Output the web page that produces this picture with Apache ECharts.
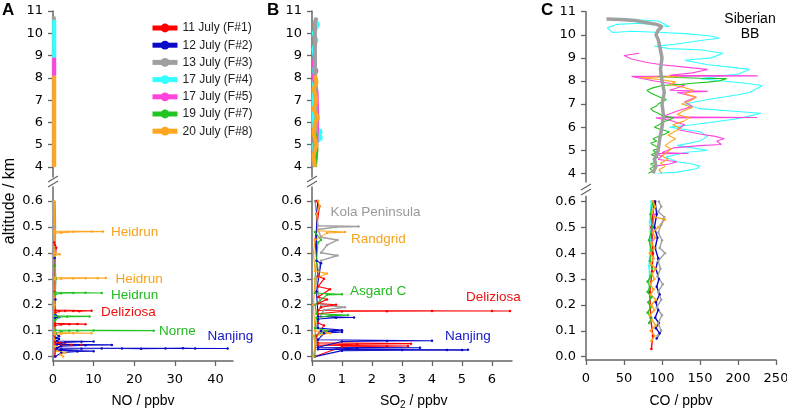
<!DOCTYPE html>
<html><head><meta charset="utf-8">
<script src="https://cdn.jsdelivr.net/npm/echarts@6/dist/echarts.min.js"></script>
<style>html,body{margin:0;padding:0;background:#fff}#c{width:787px;height:409px}</style>
</head><body><div id="c"></div>
<script>
const flights = ['11 July (F#1)','12 July (F#2)','13 July (F#3)','17 July (F#4)','17 July (F#5)','19 July (F#7)','20 July (F#8)'];
const colors = ['#ff0000','#0a0ac8','#a0a0a0','#33ffff','#ff44dd','#22c422','#ffa520'];

// ---- NO (ppbv) vs altitude (km): [value, altitude]
const noF1 = [[0.4,0.0],[0.6,0.03],[2,0.044],[4.5,0.045],[7,0.046],[0.6,0.048],[1.5,0.052],[3,0.054],[0.5,0.056],[0.4,0.08],[0.5,0.12],[2,0.124],[4,0.125],[6,0.126],[8,0.125],[0.5,0.128],[0.6,0.17],[1.5,0.175],[3,0.176],[5,0.176],[6.5,0.175],[9.5,0.177],[0.6,0.179],[0.4,0.25],[0.4,0.35],[0.8,0.42],[0.5,0.43],[0.3,0.44]];
const noF2 = [[0.6,0.0],[2,0.015],[6,0.02],[10,0.021],[1,0.024],[2,0.028],[7,0.03],[12,0.031],[17,0.031],[21.7,0.03],[27.7,0.031],[32,0.032],[35,0.031],[43,0.031],[1,0.033],[2,0.04],[8,0.044],[14.5,0.045],[1,0.047],[3,0.055],[7,0.057],[10,0.058],[1,0.06],[1.5,0.068],[0.8,0.072],[1.5,0.078],[0.6,0.09],[0.5,0.15],[1.5,0.152],[0.6,0.16],[0.6,0.22],[0.5,0.3],[0.4,0.38]];
const noF3 = [[0.2,4.0],[0.2,7.0],[0.2,10.75],[0.2,0.0],[0.3,0.1],[0.2,0.2],[0.3,0.3],[0.2,0.4],[0.3,0.5],[0.2,0.6]];
const noF4 = [[0.3,8.9],[0.3,9.8],[0.3,10.6]];
const noF5 = [[0.3,8.1],[0.3,8.9]];
const noF7 = [[0.5,0.04],[0.6,0.09],[2,0.098],[4,0.1],[6,0.1],[10,0.101],[24.8,0.1],[0.6,0.102],[0.5,0.14],[1.5,0.153],[3.5,0.154],[9,0.155],[0.5,0.157],[0.6,0.24],[2,0.244],[5,0.245],[8,0.246],[12,0.245],[0.6,0.248],[0.7,0.3],[0.5,0.35]];
const noF8 = [[0.3,4.0],[0.3,6.0],[0.3,8.1],[2.5,0.0],[1.8,0.008],[3,0.015],[1,0.022],[0.5,0.04],[0.5,0.085],[2,0.088],[5,0.09],[9.5,0.09],[0.5,0.093],[0.4,0.2],[0.5,0.298],[2,0.3],[5,0.301],[8,0.302],[11,0.302],[13,0.303],[0.5,0.305],[0.5,0.39],[1.6,0.395],[0.5,0.4],[0.4,0.476],[2,0.478],[3.5,0.48],[5,0.481],[9.5,0.482],[12.3,0.482],[0.4,0.484],[0.3,0.6]];

// ---- SO2 (ppbv)
const so2F1 = [[0.1,0.0],[1,0.038],[2.5,0.04],[3.2,0.041],[0.2,0.044],[1.5,0.048],[3.3,0.05],[0.2,0.053],[0.15,0.08],[0.4,0.12],[0.2,0.13],[0.2,0.165],[1,0.174],[2.5,0.175],[4,0.176],[6,0.176],[6.6,0.176],[0.2,0.178],[0.3,0.19],[0.8,0.2],[0.2,0.205],[0.5,0.22],[0.2,0.23],[0.6,0.26],[0.2,0.27],[0.4,0.3],[0.2,0.31],[0.1,0.45],[0.25,0.58],[0.15,0.6]];
const so2F2 = [[0.1,0.0],[1,0.023],[3,0.025],[4.5,0.025],[5,0.025],[5.2,0.026],[0.2,0.028],[1.5,0.032],[3.6,0.034],[0.2,0.036],[1,0.058],[2.5,0.06],[4,0.061],[0.2,0.065],[0.4,0.09],[1.0,0.095],[0.3,0.098],[1.0,0.102],[0.2,0.11],[0.2,0.145],[0.8,0.15],[1.4,0.151],[0.2,0.155],[0.15,0.25],[0.3,0.36],[0.15,0.37],[0.15,0.55],[0.2,0.6]];
const so2F3 = [[0.05,4.2],[0.15,6.1],[0.1,8.3],[0.1,10.5],[0.15,10.7],[0.05,0.0],[0.15,0.05],[0.1,0.1],[0.25,0.15],[0.4,0.18],[1.1,0.19],[0.3,0.2],[0.2,0.25],[0.15,0.3],[0.3,0.37],[0.85,0.39],[0.3,0.4],[0.5,0.43],[0.85,0.45],[0.3,0.46],[0.2,0.49],[0.8,0.5],[1.55,0.502],[0.2,0.505],[0.15,0.55],[0.1,0.6]];
const so2F4 = [[0.1,4.0],[0.05,5.0],[0.3,5.3],[0.25,5.5],[0.3,5.6],[0.05,5.8],[0.05,7.0],[0.1,8.9],[0.05,9.3],[0.15,9.7],[0.05,10.0],[0.2,10.4],[0.1,10.6]];
const so2F5 = [[0.12,4.4],[0.15,5.2],[0.18,6.2],[0.15,7.4],[0.05,8.1],[0.15,8.3],[0.05,8.6],[0.1,8.9]];
const so2F7 = [[0.1,4.0],[0.15,4.8],[0.1,5.5],[0.1,0.0],[0.1,0.08],[0.5,0.1],[0.1,0.11],[0.15,0.15],[0.6,0.158],[1.2,0.16],[0.15,0.165],[0.1,0.2],[0.5,0.238],[1.0,0.24],[0.1,0.245],[0.1,0.3],[0.2,0.44],[0.3,0.45],[0.1,0.48]];
const so2F8 = [[0.1,4.0],[0.05,4.5],[0.15,5.0],[0.05,5.5],[0.1,6.0],[0.2,6.2],[0.05,6.6],[0.15,7.0],[0.05,7.5],[0.15,7.8],[0.1,8.1],[0.05,0.0],[0.1,0.05],[0.05,0.08],[0.6,0.09],[0.1,0.1],[0.05,0.2],[0.1,0.3],[0.5,0.32],[0.1,0.33],[0.05,0.4],[0.1,0.45],[0.5,0.477],[1.1,0.48],[0.2,0.485],[0.15,0.55],[0.25,0.58],[0.2,0.6]];

// ---- CO (ppbv)
const coF1 = [[86,0.03],[88,0.08],[85,0.15],[84,0.25],[87,0.33],[88,0.4],[86,0.5],[90,0.6]];
const coF2 = [[93,0.07],[97,0.09],[92,0.11],[96,0.13],[91,0.15],[95,0.18],[92,0.21],[97,0.24],[93,0.27],[96,0.3],[92,0.34],[95,0.38],[91,0.42],[94,0.46],[90,0.5],[93,0.55],[91,0.6]];
const coF3 = [[88,4.0],[92,4.3],[90,4.6],[95,5.0],[97,5.5],[100,6.0],[102,6.5],[100,7.0],[103,7.5],[100,8.0],[98,8.5],[100,9.0],[97,9.5],[95,9.8],[92,10.0],[95,10.2],[100,10.35],[93,10.45],[75,10.55],[65,10.62],[45,10.66],[27,10.68],
  [94,0.08],[99,0.1],[95,0.13],[100,0.16],[93,0.19],[99,0.22],[95,0.25],[101,0.28],[94,0.31],[98,0.34],[95,0.37],[104,0.4],[97,0.42],[100,0.45],[95,0.48],[99,0.51],[103,0.54],[95,0.56],[99,0.58],[96,0.6]];
const coF4 = [[95,4.0],[120,4.05],[145,4.2],[150,4.3],[140,4.4],[120,4.5],[105,4.7],[130,4.9],[160,5.0],[140,5.1],[120,5.2],[150,5.4],[160,5.6],[150,5.8],[130,5.9],[110,6.0],[140,6.1],[185,6.3],[205,6.4],[230,6.6],[190,6.7],[150,6.8],[130,7.0],[160,7.2],[200,7.4],[215,7.5],[232,7.8],[210,7.9],[180,8.0],[150,8.1],[200,8.3],[215,8.5],[190,8.6],[160,8.7],[130,8.9],[165,9.0],[180,9.2],[150,9.35],[110,9.4],[90,9.5],[120,9.6],[150,9.75],[175,9.85],[165,9.95],[130,10.05],[100,10.1],[60,10.15],[35,10.1],[28,10.3],[40,10.45],[70,10.5],[110,10.35],[95,10.6],[40,10.7],[28,10.7],
  [84,0.28],[83,0.35],[85,0.45],[84,0.52],[86,0.6]];
const coF5 = [[88,4.3],[110,4.4],[120,4.5],[95,4.6],[100,4.75],[90,4.85],[135,4.86],[100,4.9],[115,5.1],[150,5.2],[178,5.25],[172,5.4],[182,5.5],[170,5.6],[150,5.7],[120,5.9],[130,6.1],[110,6.3],[92,6.4],[225,6.42],[100,6.45],[120,6.7],[140,6.9],[130,7.1],[145,7.3],[120,7.5],[160,7.55],[110,7.6],[130,7.8],[90,8.0],[60,8.2],[226,8.22],[110,8.25],[140,8.35],[160,8.5],[130,8.6],[100,8.7],[80,8.8],[60,8.95],[50,9.1],[70,9.2],
  [88,0.38],[87,0.45],[89,0.55]];
const coF7 = [[82,4.0],[88,4.1],[84,4.2],[90,4.3],[85,4.4],[93,4.5],[88,4.6],[95,4.7],[86,4.8],[92,4.9],[88,5.0],[97,5.1],[90,5.2],[85,5.3],[93,5.4],[88,5.5],[96,5.6],[104,5.7],[110,5.8],[98,5.9],[90,6.0],[96,6.1],[100,6.2],[108,6.3],[115,6.4],[100,6.5],[95,6.6],[88,6.7],[85,6.8],[92,6.9],[95,7.0],[100,7.1],[106,7.2],[97,7.3],[90,7.4],[84,7.5],[80,7.6],[88,7.7],[100,7.8],[125,7.85],[140,7.9],[160,7.95],[175,8.0],[185,8.1],[150,8.12],[120,8.15],[95,8.2],
  [83,0.13],[86,0.15],[81,0.17],[85,0.19],[82,0.21],[86,0.23],[81,0.25],[84,0.27],[81,0.29],[85,0.31],[87,0.34],[84,0.37],[86,0.41],[83,0.45],[87,0.5],[85,0.55],[88,0.6]];
const coF8 = [[100,4.0],[96,4.15],[104,4.3],[98,4.45],[108,4.6],[100,4.75],[106,4.9],[112,5.05],[104,5.2],[110,5.35],[118,5.5],[108,5.65],[116,5.8],[124,5.95],[114,6.1],[128,6.25],[136,6.4],[120,6.55],[128,6.7],[140,6.85],[126,7.0],[138,7.15],[145,7.3],[130,7.45],[142,7.6],[125,7.75],[110,7.85],[118,7.95],[100,8.05],[70,8.15],[124,8.18],[105,8.2],
  [86,0.06],[90,0.08],[85,0.1],[92,0.12],[87,0.14],[84,0.16],[90,0.18],[86,0.2],[92,0.22],[85,0.24],[89,0.26],[84,0.28],[90,0.3],[87,0.32],[92,0.34],[85,0.36],[89,0.38],[84,0.4],[90,0.42],[86,0.44],[91,0.46],[88,0.48],[95,0.5],[104,0.53],[90,0.54],[87,0.56],[91,0.58],[88,0.6]];

const upperTicks = [4,5,6,7,8,9,10,11];
const lowerTicks = [0,0.1,0.2,0.3,0.4,0.5,0.6];
const noTicks = [0,10,20,30,40];
const so2Ticks = [0,1,2,3,4,5,6];
const coTicks = [0,50,100,150,200,250];

// ---- layout / style
const AX = '#666';
const tickFont = {fontFamily:'DejaVu Sans', fontSize:13, color:'#000'};
const grids = [
  {left:53, top:11, width:180, height:166},
  {left:53, top:187, width:180, height:174},
  {left:312, top:11, width:200, height:166},
  {left:312, top:187, width:200, height:174},
  {left:586, top:11.7, width:190, height:170.3},
  {left:586, top:196.5, width:190, height:163.5}
];
const xr = [[0,44.33],[0,44.33],[0,6.667],[0,6.667],[0,250],[0,250]];
const yr = [[3.551,11],[-0.017,0.654],[3.551,11],[-0.017,0.654],[3.623,11],[-0.013,0.619]];
const xTickSets = [noTicks,noTicks,so2Ticks,so2Ticks,coTicks,coTicks];

const xAxis = grids.map((g,i)=>({
  type:'value', gridIndex:i, min:xr[i][0], max:xr[i][1], show: i%2===1,
  splitLine:{show:false},
  axisLine:{show:true, onZero:false, lineStyle:{color:AX, width:1.5}},
  axisTick:{show:true, length:5, customValues:xTickSets[i], lineStyle:{color:AX, width:1.3}},
  axisLabel:Object.assign({customValues:xTickSets[i], margin:12}, tickFont)
}));
const yAxis = grids.map((g,i)=>{
  const up = i%2===0;
  const tv = up ? upperTicks : lowerTicks;
  return {
    type:'value', gridIndex:i, min:yr[i][0], max:yr[i][1],
    splitLine:{show:false},
    axisLine:{show:true, onZero:false, lineStyle:{color:AX, width:1.5}},
    axisTick:{show:true, length:5, customValues:tv, lineStyle:{color:AX, width:1.3}},
    axisLabel:Object.assign({customValues:tv, margin:10, formatter: v => up ? String(v) : v.toFixed(1)}, tickFont)
  };
});

const panels = [
  {sets:[noF1,noF2,noF3,noF4,noF5,noF7,noF8], order:[2,3,4,0,1,5,6]},
  {sets:[so2F1,so2F2,so2F3,so2F4,so2F5,so2F7,so2F8], order:[3,4,2,0,1,5,6]},
  {sets:[coF1,coF2,coF3,coF4,coF5,coF7,coF8], order:[3,4,0,1,5,6,2]}
];
const series = [];
panels.forEach((p,pi)=>{
  p.order.forEach(f=>{
    const d = p.sets[f];
    const up = d.filter(v=>v[1]>=3);
    const lo = d.filter(v=>v[1]<3);
    const base = {type:'line', name:flights[f], color:colors[f], animation:false, silent:true};
    if (up.length) {
      let w = pi===2 ? (f===2 ? 3.5 : 1.1) : 4;
      series.push(Object.assign({}, base, {xAxisIndex:pi*2, yAxisIndex:pi*2, data:up, showSymbol:false, symbol:'circle',
        lineStyle:{width:w, color:colors[f]}}));
    }
    if (lo.length) {
      let w = pi===2 ? 1.4 : (f===2 ? (pi===0 ? 4 : 1.5) : 1.1);
      series.push(Object.assign({}, base, {xAxisIndex:pi*2+1, yAxisIndex:pi*2+1, data:lo, showSymbol:true, symbol:'circle',
        symbolSize: pi===2 ? 2.5 : 2.5, itemStyle:{color:colors[f]}, lineStyle:{width:w, color:colors[f]}}));
    }
  });
});

const lab = 'Liberation Sans';
function txt(x,y,s,c,size,extra){return Object.assign({type:'text', x:x, y:y, style:{text:s, fill:c, font:(size||13.5)+'px "'+lab+'"', textVerticalAlign:'middle'}}, extra||{});}
function brk(x,y){return [
  {type:'line', shape:{x1:x-5,y1:y+3,x2:x+5,y2:y-3}, style:{stroke:AX, lineWidth:1.3}},
  {type:'line', shape:{x1:x-5,y1:y+8,x2:x+5,y2:y+2}, style:{stroke:AX, lineWidth:1.3}}
];}
const graphic = [
  {type:'text', x:2, y:2, style:{text:'A', font:'bold 17px "Liberation Sans"', fill:'#000'}},
  {type:'text', x:267, y:2, style:{text:'B', font:'bold 17px "Liberation Sans"', fill:'#000'}},
  {type:'text', x:541, y:2, style:{text:'C', font:'bold 17px "Liberation Sans"', fill:'#000'}},
  {type:'text', x:10, y:201, rotation:Math.PI/2, style:{text:'altitude / km', font:'16px "Liberation Sans"', fill:'#000', textAlign:'center', textVerticalAlign:'middle'}},
  {type:'text', x:143, y:401, style:{text:'NO / ppbv', font:'14px "Liberation Sans"', fill:'#000', textAlign:'center', textVerticalAlign:'middle'}},
  {type:'text', x:380, y:401, style:{text:'SO', font:'14px "Liberation Sans"', fill:'#000', textVerticalAlign:'middle'}},
  {type:'text', x:400, y:405, style:{text:'2', font:'10px "Liberation Sans"', fill:'#000', textVerticalAlign:'middle'}},
  {type:'text', x:405.5, y:401, style:{text:' / ppbv', font:'14px "Liberation Sans"', fill:'#000', textVerticalAlign:'middle'}},
  {type:'text', x:681, y:401, style:{text:'CO / ppbv', font:'14px "Liberation Sans"', fill:'#000', textAlign:'center', textVerticalAlign:'middle'}},
  txt(111,232.5,'Heidrun','#f5a21c'),
  txt(115.5,279,'Heidrun','#f5a21c'),
  txt(111,295.5,'Heidrun','#1fbb1f'),
  txt(101,312.5,'Deliziosa','#ee1111'),
  txt(159,331.5,'Norne','#1fbb1f'),
  txt(207.5,336.5,'Nanjing','#1515c8'),
  txt(330.5,212.5,'Kola Peninsula','#999999'),
  txt(351,239.5,'Randgrid','#f5a21c'),
  txt(350,291,'Asgard C','#1fbb1f'),
  txt(466,297,'Deliziosa','#ee1111'),
  txt(445,336,'Nanjing','#1515c8'),
  {type:'text', x:750, y:26.5, style:{text:'Siberian\nBB', font:'14px "Liberation Sans"', fill:'#000', textAlign:'center', textVerticalAlign:'middle', lineHeight:15}}
].concat(brk(53,179), brk(312,179), brk(586,187));

const chart = echarts.init(document.getElementById('c'), null, {renderer:'canvas'});
chart.setOption({
  animation:false,
  backgroundColor:'#fff',
  grid: grids.map(g=>Object.assign({containLabel:false, outerBoundsMode:'none'}, g)),
  xAxis, yAxis, series, graphic,
  legend:{data:flights, orient:'vertical', left:150, top:22, padding:0, itemGap:5.2, itemWidth:25, itemHeight:11,
    selectedMode:false, lineStyle:{width:5}, textStyle:{fontFamily:lab, fontSize:12, color:'#222'}}
});
</script></body></html>
